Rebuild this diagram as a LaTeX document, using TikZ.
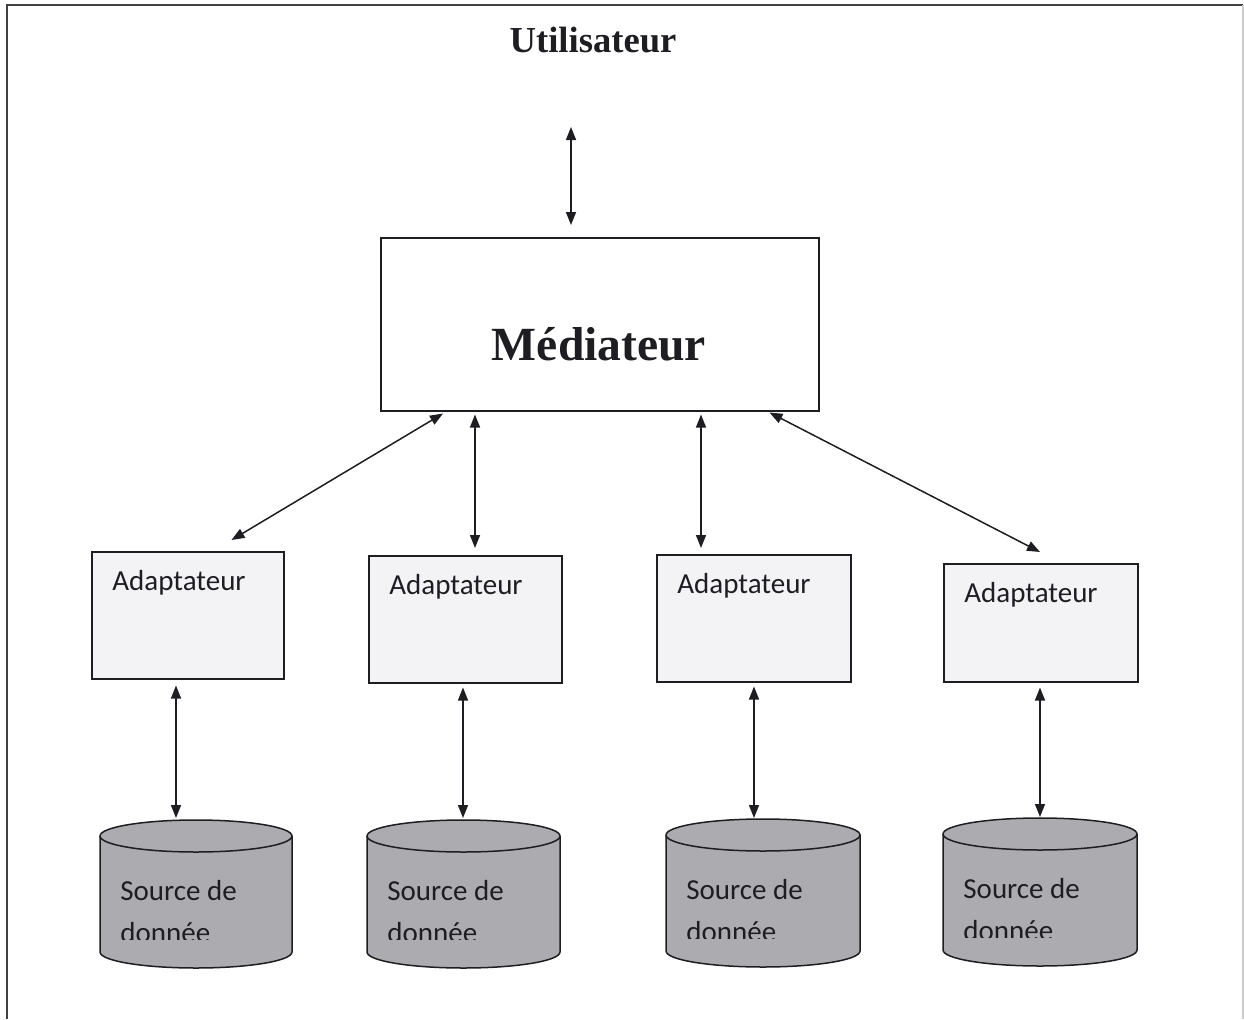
\documentclass[tikz,border=0pt]{standalone}
\usepackage{fontspec}
\setmainfont{Liberation Serif}
\newfontfamily\bodyfont{Carlito}
\usetikzlibrary{arrows.meta,calc}

\definecolor{adfill}{RGB}{243,243,246}
\definecolor{cylfill}{RGB}{172,172,176}
\definecolor{ink}{RGB}{30,30,34}

% data source cylinder: #1 name, #2 left x, #3 right x, #4 top y
\newcommand\datasource[4]{%
  \pgfmathsetmacro\tc{#4+16}%
  \pgfmathsetmacro\bc{#4+132}%
  \pgfmathsetmacro\rx{(#3-#2)/4}%
  \node[name=#1, anchor=north west, inner sep=0pt,
        minimum width={(#3-#2)*0.5pt}, minimum height=74pt] at (#2,#4) {};
  \draw[cyl] (#2,\bc) arc[start angle=180, end angle=360, x radius=\rx pt, y radius=8pt]
    -- (#3,\tc) arc[start angle=0, end angle=180, x radius=\rx pt, y radius=8pt] -- cycle;
  \draw[cylrim] (#2,\tc) arc[start angle=180, end angle=360, x radius=\rx pt, y radius=8pt];
  \node[srclbl] at ($(#1.north west)+(20,80)$) {Source de};
  \begin{scope}
    \clip (#2,#4) rectangle (#3,#4+119);
    \node[srclbl] at ($(#1.north west)+(20,122)$) {donnée};
  \end{scope}
}

\begin{document}
\begin{tikzpicture}[x=0.5pt, y=-0.5pt,
  tip/.tip={Triangle[length=6.5pt, width=5pt]},
  link/.style={line width=0.75pt, draw=ink, tip-tip},
  adapter/.style={draw=ink, line width=0.75pt, fill=adfill, inner sep=0pt, anchor=north west},
  adlbl/.style={font=\bodyfont\fontsize{14.5pt}{18pt}\selectfont, text=ink, inner sep=0pt, anchor=base west},
  srclbl/.style={font=\bodyfont\fontsize{14.5pt}{18pt}\selectfont, text=ink, inner sep=0pt, anchor=base west},
  cyl/.style={draw=ink, line width=0.75pt, fill=cylfill},
  cylrim/.style={draw=ink, line width=0.75pt},
  title/.style={font=\bfseries\fontsize{18.3pt}{22pt}\selectfont, text=ink, inner sep=0pt, anchor=base}
]
\useasboundingbox (0,0) rectangle (1244,1019);

% page frame
\draw[black!75, line width=0.8pt] (7,1019) -- (7,5) -- (1243,5);
\draw[black!20, line width=0.6pt] (1243,5) -- (1243,1019);

% user
\node[title] (user) at (593,52) {Utilisateur};
\coordinate (utop) at (571,127);

% mediator
\node[draw=ink, line width=0.75pt, fill=white, anchor=north west,
      minimum width=219pt, minimum height=86.5pt, inner sep=0pt] (med) at (380,237) {};
\node[font=\bfseries\fontsize{23.8pt}{28pt}\selectfont, text=ink, inner sep=0pt, anchor=base]
  (medlbl) at (599,360) {Médiateur};

% adapters
\node[adapter, minimum width=96pt, minimum height=63.5pt] (a1) at (91,551) {};
\node[adapter, minimum width=96.5pt, minimum height=63.5pt] (a2) at (368,555) {};
\node[adapter, minimum width=97pt, minimum height=63.5pt] (a3) at (656,554) {};
\node[adapter, minimum width=97pt, minimum height=59pt] (a4) at (943,563) {};
\foreach \a in {a1,a2,a3,a4}
  \node[adlbl] at ($(\a.north west)+(21,39)$) {Adaptateur};

% data sources
\datasource{s1}{100}{292}{820}
\datasource{s2}{367}{560}{820}
\datasource{s3}{666}{860}{819}
\datasource{s4}{943}{1137}{818}

% user <-> mediator
\draw[link] (utop) -- ($(med.north west)+(191,-12)$);

% mediator <-> adapters
\draw[link] ($(med.south west)+(63,2)$) -- ($(a1.north east)+(-53,-11)$);
\draw[link] ($(med.south west)+(95,3)$) -- ($(a2.north west)+(107,-7)$);
\draw[link] ($(med.south west)+(321,3)$) -- ($(a3.north west)+(45,-6)$);
\draw[link] ($(med.south east)+(-50,1)$) -- ($(a4.north west)+(97,-11)$);

% adapters <-> data sources
\draw[link] ($(a1.south west)+(85,6)$) -- ($(s1.north west)+(76,-2)$);
\draw[link] ($(a2.south west)+(95,4)$) -- ($(s2.north west)+(96,-2)$);
\draw[link] ($(a3.south west)+(98,4)$) -- ($(s3.north west)+(88,-1)$);
\draw[link] ($(a4.south west)+(97,5)$) -- ($(s4.north west)+(97,-1)$);
\end{tikzpicture}
\end{document}
